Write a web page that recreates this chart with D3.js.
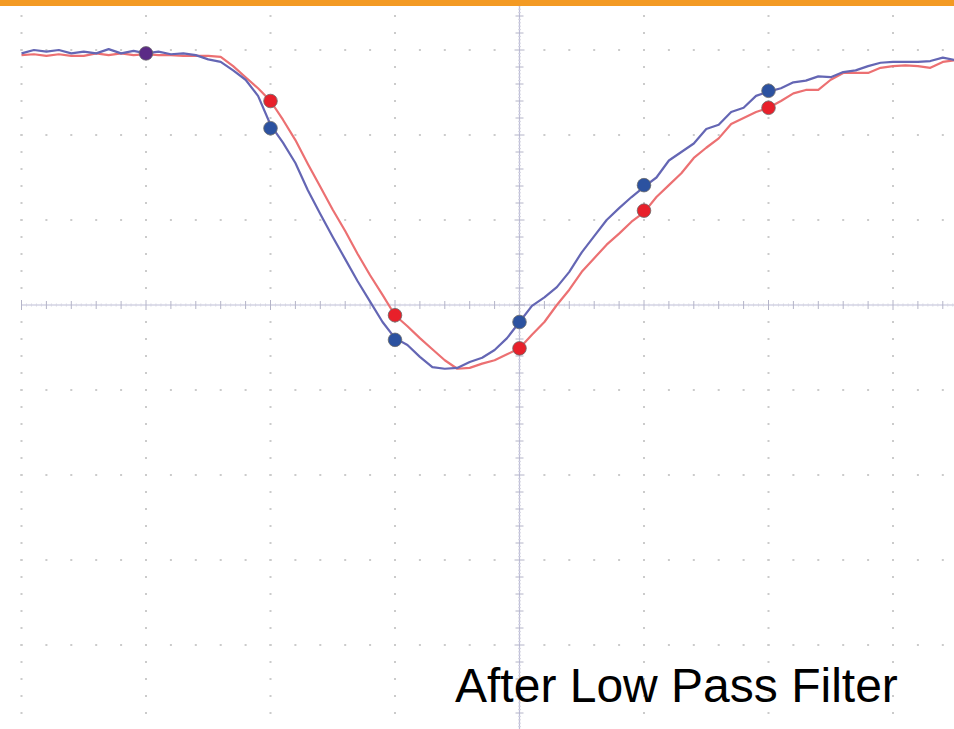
<!DOCTYPE html>
<html>
<head>
<meta charset="utf-8">
<script src="https://cdn.jsdelivr.net/npm/d3@7/dist/d3.min.js"></script>
<style>
  html, body { margin: 0; padding: 0; background: #ffffff; overflow: hidden; }
  svg { display: block; }
</style>
</head>
<body>
<svg id="scope" width="954" height="729"></svg>
<script>
// Sample times in ns (100 ns per division, one sample every 10 ns)
const sampleTimes = d3.range(-400, 351, 10);

// Probe readings in mV (100 mV per division)
const blueTrace = [
  296, 300, 298, 300, 296, 298, 296, 301, 296, 299,
  296, 298, 295, 296, 294, 289, 286, 276, 265, 246,
  212, 191, 167, 135, 107, 80, 54, 28, 4, -20,
  -39, -47, -61, -73, -75, -74, -67, -62, -53, -39,
  -20, -1, 9, 21, 39, 62, 81, 100, 114, 127,
  139, 150, 170, 180, 190, 207, 212, 227, 232, 246,
  251, 255, 262, 264, 269, 268, 274, 276, 281, 285,
  286, 286, 286, 287, 291, 288
];
const redTrace = [
  294, 295, 293, 295, 293, 293, 296, 294, 296, 294,
  295, 294, 294, 293, 293, 293, 292, 281, 268, 255,
  240, 218, 194, 166, 139, 112, 87, 60, 35, 12,
  -12, -25, -39, -52, -65, -75, -74, -69, -65, -58,
  -51, -35, -20, 0, 18, 39, 55, 71, 84, 98,
  109, 127, 141, 155, 173, 185, 196, 213, 220, 227,
  232, 240, 249, 253, 253, 265, 273, 273, 273, 279,
  281, 282, 281, 279, 286, 288
];

// Cursor markers (time ns, level mV)
const redMarkerTimes = [-200, -100, 0, 100, 200];
const redMarkerValues = [240, -12, -51, 111, 232];
const blueMarkerTimes = [-200, -100, 0, 100, 200];
const blueMarkerValues = [208, -41, -20, 141, 252];
const sharedMarkerTimes = [-300];
const sharedMarkerValues = [296];

// Graticule divisions
const timeMajorTicks = d3.range(-400, 401, 100);
const timeMinorTicks = d3.range(-400, 401, 20);
const timeFineTicks = d3.range(-400, 401, 4);
const levelMajorTicks = d3.range(-500, 401, 100);
const levelMinorTicks = d3.range(-500, 401, 20);
const levelFineTicks = d3.range(-500, 401, 4);

const captionText = "After Low Pass Filter";

const svg = d3.select("#scope");
const W = 954, H = 729;

const x = d3.scaleLinear().domain([-400, 400]).range([21.5, 1017.5]);
const y = d3.scaleLinear().domain([-500, 400]).range([730, -35]);

const grid = svg.append("g").attr("class", "graticule");
const dotColor = "#cbcbcb";

// dotted major verticals
timeMajorTicks.filter(t => t !== 0).forEach(t => {
  grid.selectAll(null)
    .data(levelMinorTicks.filter(v => v !== 0))
    .join("rect")
    .attr("x", x(t) - 1).attr("y", d => y(d) - 1)
    .attr("width", 2).attr("height", 2)
    .attr("fill", dotColor);
});
// dotted major horizontals
levelMajorTicks.filter(v => v !== 0).forEach(v => {
  grid.selectAll(null)
    .data(timeMinorTicks.filter(t => t !== 0))
    .join("rect")
    .attr("x", d => x(d) - 1).attr("y", y(v) - 1)
    .attr("width", 2).attr("height", 2)
    .attr("fill", dotColor);
});

// centre axes with tick marks
const axisColor = "#bdbdd8";
const tickColor = "#b4b4c8";
const fineColor = "#d6d6e2";
const tickHalf = d => (d % 100 === 0 ? 5 : d % 20 === 0 ? 4 : 1.5);

grid.append("line")
  .attr("x1", x(-400)).attr("x2", W)
  .attr("y1", y(0)).attr("y2", y(0))
  .attr("stroke", axisColor).attr("stroke-width", 1.2);
grid.append("line")
  .attr("x1", x(0)).attr("x2", x(0))
  .attr("y1", 6).attr("y2", H)
  .attr("stroke", axisColor).attr("stroke-width", 1.2);

grid.selectAll(null)
  .data(timeFineTicks)
  .join("line")
  .attr("x1", d => x(d)).attr("x2", d => x(d))
  .attr("y1", d => y(0) - tickHalf(d))
  .attr("y2", d => y(0) + tickHalf(d))
  .attr("stroke", d => d % 20 === 0 ? tickColor : fineColor)
  .attr("stroke-width", 1);

grid.selectAll(null)
  .data(levelFineTicks)
  .join("line")
  .attr("y1", d => y(d)).attr("y2", d => y(d))
  .attr("x1", d => x(0) - tickHalf(d))
  .attr("x2", d => x(0) + tickHalf(d))
  .attr("stroke", d => d % 20 === 0 ? tickColor : fineColor)
  .attr("stroke-width", 1);

// traces
const line = d3.line()
  .x((d, i) => x(sampleTimes[i]))
  .y(d => y(d))
  .curve(d3.curveLinear);

svg.append("path")
  .datum(redTrace)
  .attr("d", line)
  .attr("fill", "none")
  .attr("stroke", "#ec7072")
  .attr("stroke-width", 2.2)
  .attr("stroke-linejoin", "round");

svg.append("path")
  .datum(blueTrace)
  .attr("d", line)
  .attr("fill", "none")
  .attr("stroke", "#6466b4")
  .attr("stroke-width", 2.2)
  .attr("stroke-linejoin", "round");

// markers
function drawMarkers(times, values, fill) {
  svg.append("g").selectAll("circle")
    .data(times.map((t, i) => [t, values[i]]))
    .join("circle")
    .attr("cx", d => x(d[0]))
    .attr("cy", d => y(d[1]))
    .attr("r", 6.8)
    .attr("fill", fill)
    .attr("stroke", "#6a6a6a")
    .attr("stroke-width", 0.8);
}
drawMarkers(redMarkerTimes, redMarkerValues, "#e8202a");
drawMarkers(blueMarkerTimes, blueMarkerValues, "#2c52a0");
drawMarkers(sharedMarkerTimes, sharedMarkerValues, "#5b2a86");

// top banner
svg.append("rect")
  .attr("x", 0).attr("y", 0)
  .attr("width", W).attr("height", 6)
  .attr("fill", "#f39a24");

// caption
svg.append("text")
  .attr("x", 455).attr("y", 702)
  .attr("font-family", "'Liberation Sans', Arial, sans-serif")
  .attr("font-size", 48)
  .attr("fill", "#000")
  .text(captionText);
</script>
</body>
</html>
